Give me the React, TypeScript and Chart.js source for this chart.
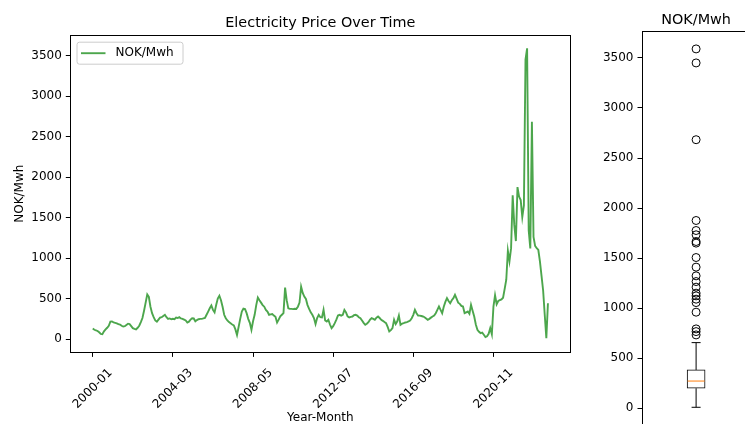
import { useEffect, useRef } from 'react';
import { Chart, registerables } from 'chart.js';

Chart.register(...registerables);

const FONT_FAMILY = "'DejaVu Sans', 'Liberation Sans', sans-serif";

// Monthly spot price, NOK per MWh, starting January 2000
const startYear = 2000;
const priceNOK = [
  130, 115, 108, 100, 85, 65, 60, 95, 120, 140, 165, 215,
  218, 205, 200, 195, 185, 180, 165, 155, 160, 175, 190, 185,
  160, 135, 125, 120, 140, 165, 210, 260, 350, 450, 550, 520,
  400, 320, 270, 230, 215, 240, 265, 270, 285, 300, 270, 250,
  255, 245, 250, 245, 265, 260, 270, 255, 250, 240, 230, 205,
  215, 240, 258, 255, 220, 235, 245, 250, 250, 255, 262, 300,
  340, 380, 415, 360, 330, 420, 500, 535, 480, 400, 300, 258,
  230, 210, 195, 180, 170, 120, 50, 150, 250, 340, 375, 370,
  320, 250, 200, 115, 220, 300, 420, 513, 480, 450, 420, 400,
  361, 340, 300, 305, 310, 290, 275, 205, 240, 280, 300, 320,
  636, 480, 380, 375, 373, 370, 375, 373, 400, 450, 648, 570,
  525, 496, 420, 373, 330, 300, 260, 185, 260, 300, 270, 267,
  361, 230, 217, 238, 180, 135, 160, 197, 240, 291, 300, 290,
  300, 361, 330, 280, 267, 275, 279, 295, 300, 290, 270, 258,
  230, 200, 176, 190, 209, 240, 258, 250, 238, 265, 279, 260,
  238, 225, 210, 197, 150, 94, 110, 135, 238, 185, 220, 291,
  176, 190, 197, 205, 210, 217, 230, 258, 300, 361, 320, 291,
  290, 285, 279, 270, 255, 238, 250, 265, 279, 290, 320, 360,
  402, 360, 320, 400, 460, 505, 470, 443, 480, 505, 546, 500,
  450, 435, 410, 402, 320, 330, 340, 312, 423, 350, 279, 180,
  115, 90, 74, 80, 53, 25, 35, 66, 135, 60, 400, 540,
  430, 470, 480, 490, 510, 620, 733, 1090, 960, 1123, 1776, 1410,
  1210, 1876, 1760, 1716, 1506, 1650, 3450, 3590, 1340, 1120, 2683, 1262,
  1150, 1123, 1100, 960, 780, 600, 300, 12, 443,
];

const months = priceNOK.map(
  (_, i) => `${startYear + Math.floor(i / 12)}-${String((i % 12) + 1).padStart(2, '0')}`
);

const xTickLabels = ['2000-01', '2004-03', '2008-05', '2012-07', '2016-09', '2020-11'];
const yTickValues = [0, 500, 1000, 1500, 2000, 2500, 3000, 3500];

// Box-plot summary of the same series
const boxWhiskers = [10, 656];
const boxQuartiles = [200, 383];
const boxMedian = 272;
const boxOutliers = [
  3590, 3450, 2683, 1876, 1776, 1733, 1666, 1650, 1506, 1410, 1323,
  1266, 1210, 1150, 1123, 1090, 1056, 960, 793, 766, 733,
];

const seriesLabel = 'NOK/Mwh';
const lineColor = 'rgba(0, 128, 0, 0.7)';

const W = 745;
const H = 424;

const font = (size: number) => ({ family: FONT_FAMILY, size, lineHeight: 1.2 });

// Full rectangular frame around the plotting area
const framePlugin = {
  id: 'frame',
  afterDraw(chart: any) {
    const { ctx, chartArea: a } = chart;
    ctx.save();
    ctx.strokeStyle = '#000';
    ctx.lineWidth = 1;
    const l = Math.round(a.left) + 0.5;
    const t = Math.round(a.top) + 0.5;
    const r = Math.round(a.right) - 0.5;
    const b = Math.round(a.bottom) - 0.5;
    ctx.strokeRect(l, t, r - l, b - t);
    ctx.restore();
  },
};

// Titles, axis labels and the inset legend of the line chart
const lineTextPlugin = {
  id: 'lineText',
  afterDraw(chart: any) {
    const { ctx, chartArea: a } = chart;
    const cx = (a.left + a.right) / 2;
    const cy = (a.top + a.bottom) / 2;
    ctx.save();
    ctx.fillStyle = '#000';

    ctx.font = `14.4px ${FONT_FAMILY}`;
    ctx.textAlign = 'center';
    ctx.textBaseline = 'alphabetic';
    ctx.fillText('Electricity Price Over Time', cx, a.top - 7.5);

    ctx.font = `12px ${FONT_FAMILY}`;
    ctx.textBaseline = 'middle';
    ctx.fillText('Year-Month', cx, 418);

    ctx.save();
    ctx.translate(23, cy);
    ctx.rotate(-Math.PI / 2);
    ctx.textBaseline = 'alphabetic';
    ctx.fillText(seriesLabel, 0, 0);
    ctx.restore();

    // legend
    const ds = chart.data.datasets[0];
    const lx = a.left + 6.5;
    const ly = a.top + 7;
    const lw = 106;
    const lh = 22;
    ctx.beginPath();
    ctx.roundRect(lx + 0.5, ly + 0.5, lw, lh, 2.5);
    ctx.fillStyle = 'rgba(255,255,255,0.8)';
    ctx.fill();
    ctx.strokeStyle = '#cccccc';
    ctx.lineWidth = 1;
    ctx.stroke();

    const my = ly + lh / 2 + 0.5;
    ctx.beginPath();
    ctx.moveTo(lx + 4.5, my);
    ctx.lineTo(lx + 29, my);
    ctx.strokeStyle = ds.borderColor;
    ctx.lineWidth = ds.borderWidth;
    ctx.stroke();

    ctx.fillStyle = '#000';
    ctx.font = `12px ${FONT_FAMILY}`;
    ctx.textAlign = 'left';
    ctx.textBaseline = 'middle';
    ctx.fillText(ds.label, lx + 39, my);
    ctx.restore();
  },
};

const boxTextPlugin = {
  id: 'boxText',
  afterDraw(chart: any) {
    const { ctx, chartArea: a } = chart;
    ctx.save();
    ctx.fillStyle = '#000';
    ctx.font = `14.4px ${FONT_FAMILY}`;
    ctx.textAlign = 'center';
    ctx.textBaseline = 'alphabetic';
    ctx.fillText(seriesLabel, (a.left + a.right) / 2, a.top - 7.5);
    ctx.restore();
  },
};

const yScale = (min: number, max: number, width: number) => ({
  type: 'linear' as const,
  min,
  max,
  afterBuildTicks: (s: any) => {
    s.ticks = yTickValues.map((v) => ({ value: v }));
  },
  afterFit: (s: any) => {
    s.width = width;
  },
  ticks: {
    color: '#000',
    font: font(12),
    padding: 4,
    callback: (v: any) => String(v),
  },
  grid: { drawOnChartArea: false, drawTicks: true, tickLength: 4.2, tickColor: '#000' },
  border: { display: false },
});

export default function App() {
  const lineRef = useRef<HTMLCanvasElement>(null);
  const boxRef = useRef<HTMLCanvasElement>(null);

  useEffect(() => {
    const lineChart = new Chart(lineRef.current!, {
      type: 'line',
      data: {
        datasets: [
          {
            label: seriesLabel,
            data: priceNOK.map((v, i) => ({ x: i, y: v })),
            borderColor: lineColor,
            borderWidth: 1.9,
            pointRadius: 0,
            tension: 0,
            fill: false,
          },
        ],
      },
      options: {
        responsive: false,
        animation: false,
        devicePixelRatio: 1,
        layout: { padding: { left: 0, top: 34.7, right: 174.3, bottom: 0 } },
        plugins: {
          legend: { display: false },
          tooltip: { enabled: false },
          title: { display: false },
        },
        scales: {
          x: {
            type: 'linear',
            min: -14.2,
            max: 298.2,
            afterBuildTicks: (s: any) => {
              s.ticks = xTickLabels.map((l) => ({ value: months.indexOf(l) }));
            },
            afterFit: (s: any) => {
              s.height = 71.3;
            },
            ticks: {
              autoSkip: false,
              minRotation: 45,
              maxRotation: 45,
              color: '#000',
              font: font(12),
              padding: 9,
              labelOffset: 17.7,
              callback: (v: any) => months[v],
            },
            grid: { drawOnChartArea: false, drawTicks: true, tickLength: 4.2, tickColor: '#000' },
            border: { display: false },
          },
          y: yScale(-168, 3758, 70),
        },
      },
      plugins: [framePlugin, lineTextPlugin],
    });

    const boxChart = new Chart(boxRef.current!, {
      type: 'bar',
      data: {
        datasets: [
          {
            type: 'bar',
            data: [{ x: 1, y: boxQuartiles }] as any,
            backgroundColor: '#ffffff',
            borderColor: '#000',
            borderWidth: 1,
            borderSkipped: false,
            barThickness: 18,
            order: 4,
          },
          {
            type: 'scatter',
            showLine: true,
            data: [
              { x: 1, y: boxQuartiles[1] },
              { x: 1, y: boxWhiskers[1] },
            ],
            borderColor: '#000',
            borderWidth: 1,
            pointRadius: 0,
            order: 3,
          },
          {
            type: 'scatter',
            showLine: true,
            data: [
              { x: 1, y: boxWhiskers[0] },
              { x: 1, y: boxQuartiles[0] },
            ],
            borderColor: '#000',
            borderWidth: 1,
            pointRadius: 0,
            order: 3,
          },
          {
            type: 'scatter',
            data: boxWhiskers.map((v) => ({ x: 1, y: v })),
            pointStyle: 'line',
            pointRadius: 4.5,
            borderColor: '#000',
            borderWidth: 1,
            order: 2,
          },
          {
            type: 'scatter',
            data: [{ x: 1, y: boxMedian }],
            pointStyle: 'line',
            pointRadius: 8.5,
            borderColor: '#ff7f0e',
            borderWidth: 1,
            order: 1,
          },
          {
            type: 'scatter',
            data: boxOutliers.map((v) => ({ x: 1, y: v })),
            pointStyle: 'circle',
            pointRadius: 4,
            borderColor: '#000',
            backgroundColor: 'rgba(0,0,0,0)',
            borderWidth: 1,
            order: 1,
          },
        ] as any,
      },
      options: {
        responsive: false,
        animation: false,
        devicePixelRatio: 1,
        layout: { padding: { left: 0, top: 31, right: 7.7, bottom: 14.8 } },
        plugins: {
          legend: { display: false },
          tooltip: { enabled: false },
          title: { display: false },
        },
        scales: {
          x: { type: 'linear', min: 0.5, max: 1.5, display: false },
          y: yScale(-169, 3769, 41.7),
        },
      },
      plugins: [framePlugin, boxTextPlugin],
    });

    return () => {
      lineChart.destroy();
      boxChart.destroy();
    };
  }, []);

  return (
    <div
      style={{
        position: 'fixed',
        left: 0,
        top: 0,
        width: W,
        height: H,
        overflow: 'hidden',
        background: '#fff',
      }}
    >
      <canvas
        ref={lineRef}
        width={W}
        height={H}
        style={{ position: 'absolute', left: 0, top: 0, width: W, height: H }}
      />
      <canvas
        ref={boxRef}
        width={160}
        height={440}
        style={{ position: 'absolute', left: 600, top: 0, width: 160, height: 440 }}
      />
    </div>
  );
}
